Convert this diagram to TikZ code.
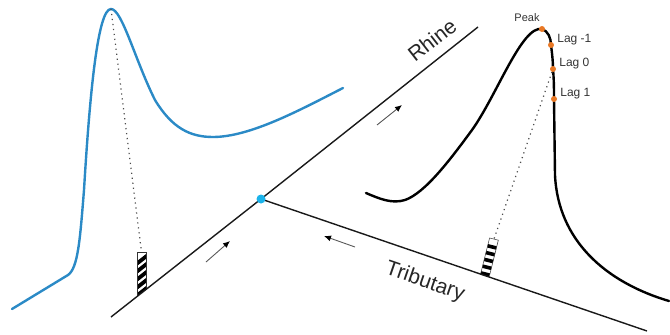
\documentclass[tikz,border=0pt]{standalone}
\usepackage{fontspec}
\setmainfont{Liberation Sans}
\usepackage{tikz}
\usetikzlibrary{arrows.meta,positioning}
\definecolor{flowblue}{HTML}{2B8AC6}
\definecolor{junctioncyan}{HTML}{1BB3EA}
\definecolor{lagorange}{HTML}{E97824}
\definecolor{labelgray}{HTML}{333333}
\tikzstyle{river} = [line width=1.4pt, black!90]
\tikzstyle{hydro} = [line width=2.4pt, line cap=round]
\tikzstyle{lagdot} = [circle, fill=lagorange, inner sep=0pt, minimum size=6pt]
\tikzstyle{laglabel} = [text=labelgray, font=\fontsize{12}{12}\selectfont, inner sep=1pt]
\tikzstyle{flowarrow} = [-{Latex[length=7pt,width=6pt,black]}, line width=0.9pt, black!65]
\tikzstyle{sight} = [line width=1.2pt, dash pattern=on 1.2pt off 3.8pt, black!70]
\tikzstyle{rivername} = [font=\fontsize{21}{21}\selectfont, text=black!85, inner sep=0pt]
\tikzstyle{gaugeedge} = [line width=0.5pt, black!80]

\begin{document}
\begin{tikzpicture}[x=1pt, y=-1pt]
\useasboundingbox (0,0) rectangle (670,335);

% river network
\coordinate (rhinestart) at (111,317);
\coordinate (rhineend) at (478,27);
\coordinate (junction) at (261,199);
\coordinate (tribend) at (647,331);

% gauge on the Rhine
\begin{scope}
  \clip (137,252) -- (146,252) -- (146,289.4) -- (137,296.5) -- cycle;
  \foreach \k in {0,...,5}
    \draw[line width=3.8pt] (130,269+8*\k) -- (153,251+8*\k);
\end{scope}
\draw[gaugeedge] (137,296.5) -- (137,252) -- (146,252) -- (146,289.4);
\coordinate (rhinegauge) at (141.5,252);

% gauge on the tributary
\begin{scope}[shift={(485,275)}, rotate=-14]
  \begin{scope}
    \clip (-4.5,3) rectangle (4.5,-37);
    \foreach \k in {0,...,4}
      \draw[line width=3.6pt] (-6,-29+7*\k) -- (6,-29+7*\k);
  \end{scope}
  \draw[gaugeedge] (-4.5,1) -- (-4.5,-37) -- (4.5,-37) -- (4.5,-1);
  \coordinate (tribgauge) at (0,-37);
\end{scope}

\draw[river] (rhinestart) -- (junction) -- (rhineend);
\draw[river] (junction) -- (tribend);
\node[circle, fill=junctioncyan, inner sep=0pt, minimum size=9pt] (confluence) at (junction) {};

\node[rivername, rotate=38] (rhinelabel) at (432,40) {Rhine};
\node[rivername, rotate=-19] (triblabel) at (425,282) {Tributary};

% flow directions
\coordinate (flowa) at (206,262);
\coordinate (flowah) at (230,241);
\coordinate (flowb) at (377,125);
\coordinate (flowbh) at (402,105);
\coordinate (flowc) at (355,247);
\coordinate (flowch) at (324,236);
\draw[flowarrow] (flowa) -- (flowah);
\draw[flowarrow] (flowb) -- (flowbh);
\draw[flowarrow] (flowc) -- (flowch);

% Rhine hydrograph
\coordinate (bluepeak) at (111,9);
\draw[hydro, flowblue] (12,309) -- (68,275) .. controls (78,268) and (80,240) .. (84,190)
  .. controls (90,90) and (98,9) .. (bluepeak)
  .. controls (122,9) and (135,60) .. (155,100)
  .. controls (172,128) and (190,137) .. (213,137)
  .. controls (250,137) and (300,110) .. (343,88);

% tributary hydrograph
\draw[hydro] (366,193) .. controls (380,199) and (392,204) .. (405,200)
  .. controls (425,193) and (450,160) .. (472,130)
  .. controls (497,95) and (522,25) .. (542,29)
  .. controls (548,31) and (551,38) .. (551,45)
  .. controls (552,53) and (553,61) .. (553,69)
  .. controls (554,80) and (554,90) .. (554,99)
  -- (555,175) .. controls (558,240) and (605,282) .. (669,301);

\draw[sight] (bluepeak) -- (rhinegauge);

\node[lagdot] (peak) at (542,29) {};
\node[lagdot] (lagm1) at (551,45) {};
\node[lagdot] (lag0) at (553,69) {};
\node[lagdot] (lag1) at (554,99) {};
\draw[sight] (lag0) -- (tribgauge);

\node[laglabel, font=\fontsize{11}{11}\selectfont, above left=4pt and -1pt of peak] (peaktext) {Peak};
\node[laglabel, right=2pt of lagm1, yshift=5pt] (lagm1text) {Lag -1};
\node[laglabel, right=2pt of lag0, yshift=5pt] (lag0text) {Lag 0};
\node[laglabel, right=2pt of lag1, yshift=5pt] (lag1text) {Lag 1};
\end{tikzpicture}
\end{document}
